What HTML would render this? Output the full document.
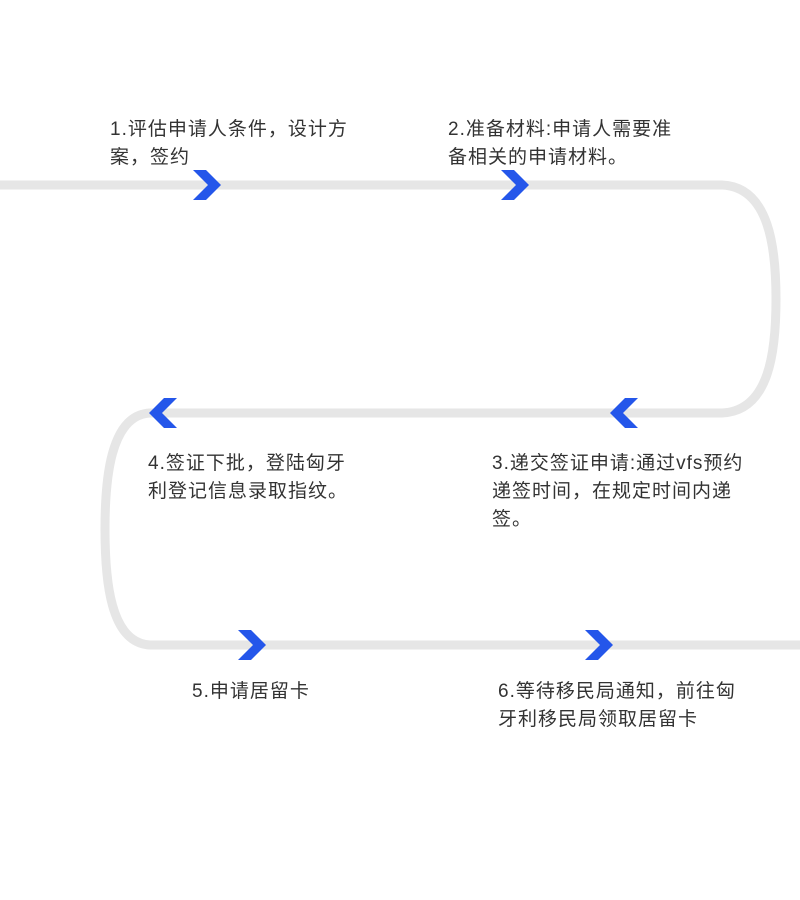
<!DOCTYPE html>
<html><head><meta charset="utf-8"><style>
body{margin:0;width:800px;height:900px;background:#fff;position:relative;overflow:hidden;font-family:"Liberation Sans","Noto Sans CJK SC",sans-serif;}
.t{position:absolute;font-size:19px;letter-spacing:1px;line-height:28px;color:#333;white-space:nowrap;}
svg{position:absolute;left:0;top:0;}
</style></head><body>
<svg width="800" height="900">
<path d="M0,185 H722 C770,187 776,250 776,299 C776,350 770,411 722,413 H150 C110,415 105,480 105,529 C105,580 110,643 150,645 H800" fill="none" stroke="#e6e6e6" stroke-width="9"/>
<g fill="#2456ea">
<polygon points="193,170 206,170 221,185 206,200 193,200 208,185"/>
<polygon points="501,170 514,170 529,185 514,200 501,200 516,185"/>
<polygon points="238,630 251,630 266,645 251,660 238,660 253,645"/>
<polygon points="585,630 598,630 613,645 598,660 585,660 600,645"/>
<polygon points="177,398 164,398 149,413 164,428 177,428 162,413"/>
<polygon points="638,398 625,398 610,413 625,428 638,428 623,413"/>
</g>
</svg>
<div class="t" style="left:110px;top:116px">1.评估申请人条件，设计方<br>案，签约</div>
<div class="t" style="left:448px;top:116px">2.准备材料:申请人需要准<br>备相关的申请材料。</div>
<div class="t" style="left:148px;top:450px">4.签证下批，登陆匈牙<br>利登记信息录取指纹。</div>
<div class="t" style="left:492px;top:450px">3.递交签证申请:通过vfs预约<br>递签时间，在规定时间内递<br>签。</div>
<div class="t" style="left:192px;top:678px">5.申请居留卡</div>
<div class="t" style="left:498px;top:678px">6.等待移民局通知，前往匈<br>牙利移民局领取居留卡</div>
</body></html>
